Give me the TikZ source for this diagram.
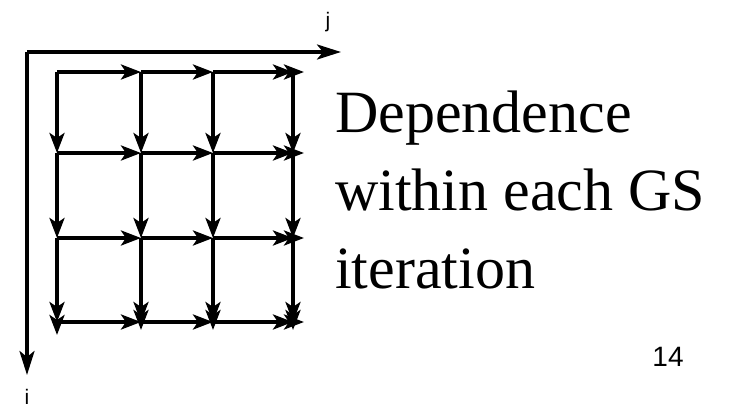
\documentclass[tikz,border=0pt]{standalone}
\usepackage{fontspec}
\setmainfont{Liberation Serif}
\newfontfamily\labelfont{Liberation Sans}
\usetikzlibrary{arrows.meta}

\begin{document}
\begin{tikzpicture}[x=1pt,y=-1pt,
dep/.style={-{Stealth[length=20pt,width=15pt,inset=5pt]},line width=4pt},
axis/.style={-{Stealth[length=24pt,width=15pt,inset=6pt]},line width=3.6pt},
axlabel/.style={font=\labelfont\fontsize{21}{24}\selectfont,inner sep=0pt}]
\useasboundingbox (0,0) rectangle (730,404);
\coordinate (origin) at (27,52);
\coordinate (jend) at (341,52);
\coordinate (iend) at (27,375);
\draw[axis] (origin) -- (jend);
\draw[axis] (origin) -- (iend);
\node[axlabel] (jlab) at (328,22) {j};
\node[axlabel,anchor=north] (ilab) at (27,389) {i};
\foreach \col/\xx in {1/57,2/141,3/213,4/293}
 \foreach \row/\yy in {1/72,2/153,3/238,4/322}
  \coordinate (p\row-\col) at (\xx,\yy);
\coordinate (p1-5) at (304,72);
\coordinate (p2-5) at (304,153);
\coordinate (p3-5) at (304,238);
\coordinate (p4-5) at (304,322);
\coordinate (p5-1) at (57,335);
\coordinate (p5-2) at (141,330);
\coordinate (p5-3) at (213,330);
\coordinate (p5-4) at (293,330);
\foreach \row in {1,2,3,4}
 \foreach \col/\nxt in {1/2,2/3,3/4,4/5}
  \draw[dep] (p\row-\col) -- (p\row-\nxt);
\foreach \row/\nxt in {1/2,2/3,3/4,4/5}
 \foreach \col in {1,2,3,4}
  \draw[dep] (p\row-\col) -- (p\nxt-\col);
\node[anchor=base west,align=left,inner sep=0pt,font=\fontsize{60}{78}\selectfont] (caption) at (335,288)
 {Dependence\\within each GS\\iteration};
\node[font=\labelfont\fontsize{28}{32}\selectfont,inner sep=0pt] (page) at (668,357) {14};
\end{tikzpicture}
\end{document}
